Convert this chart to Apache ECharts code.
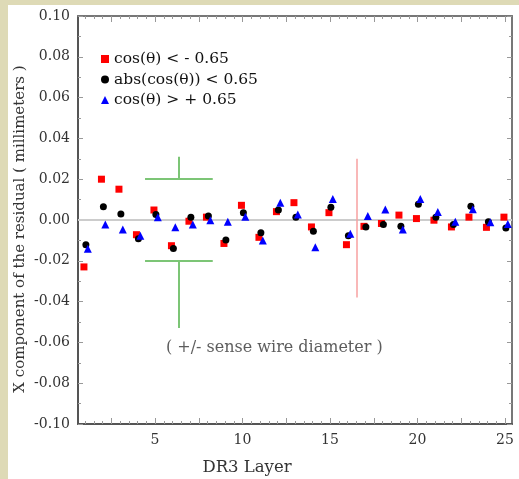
<!DOCTYPE html>
<html><head><meta charset="utf-8">
<script src="https://cdn.jsdelivr.net/npm/echarts@6/dist/echarts.min.js"></script>
<style>html,body{margin:0;padding:0;background:#fff}#c{width:519px;height:479px}</style>
</head><body><div id="c"></div>
<script>
const layers = [1,2,3,4,5,6,7,8,9,10,11,12,13,14,15,16,17,18,19,20,21,22,23,24,25];
const redVals = [-0.0230,0.0200,0.0151,-0.0072,0.0049,-0.0126,-0.0006,0.0014,-0.0115,0.0072,-0.0085,0.0041,0.0085,-0.0034,0.0036,-0.0121,-0.0031,-0.0017,0.0024,0.0007,-0.0001,-0.0034,0.0014,-0.0036,0.0014];
const blackVals = [-0.0121,0.0065,0.0029,-0.0092,0.0027,-0.0140,0.0014,0.0019,-0.0098,0.0036,-0.0062,0.0049,0.0014,-0.0055,0.0063,-0.0077,-0.0034,-0.0022,-0.0031,0.0077,0.0014,-0.0022,0.0068,-0.0009,-0.0039];
const blueVals = [-0.0141,-0.0022,-0.0047,-0.0077,0.0014,-0.0036,-0.0022,-0.0001,-0.0009,0.0016,-0.0101,0.0085,0.0027,-0.0133,0.0103,-0.0068,0.0019,0.0052,-0.0047,0.0103,0.0039,-0.0009,0.0053,-0.0011,-0.0019];
const seriesNames = ['cos(\u03B8) < - 0.65','abs(cos(\u03B8)) < 0.65','cos(\u03B8) > + 0.65'];
const xTickLabels = [5,10,15,20,25];
const xMajorTicks = [2.5,5,7.5,10,12.5,15,17.5,20,22.5,25];
const xMinorTicks = [];
for (let v = 1; v <= 25; v += 0.5) xMinorTicks.push(v);
// annotations (data units)
const bracketX = [4.43, 8.3, 6.37];
const bracketY = [0.02, -0.02, 0.031, -0.053];
const redLine = {x: 16.52, y1: 0.030, y2: -0.038};
const noteText = '( +/- sense wire diameter )';
const notePos = [11.82, -0.0625];

const jitter = [-0.06, 0.05, 0.16];
const mk = (vals, j) => layers.map((l, i) => [l + j, vals[i]]);
const font = 'DejaVu Serif';
const minX = 0.6, maxX = 25.4;

function xAx(pos, ticks, len, labels, line) {
  return {
    type: 'value', position: pos, min: minX, max: maxX,
    axisLine: {show: line, onZero: false, lineStyle: {color: pos === 'bottom' ? '#555' : '#777', width: 2}},
    axisTick: {show: true, inside: true, length: len, customValues: ticks, lineStyle: {color: '#999'}},
    axisLabel: labels ? {show: true, customValues: xTickLabels, margin: 9, color: '#333', fontFamily: font, fontSize: 14, formatter: v => String(v)} : {show: false},
    splitLine: {show: false}
  };
}
function yAx(pos, labels) {
  return {
    type: 'value', position: pos, min: -0.1, max: 0.1, interval: 0.02,
    axisLine: {show: true, onZero: false, lineStyle: {color: pos === 'left' ? '#555' : '#777', width: 2}},
    axisTick: {show: true, inside: true, length: 5, lineStyle: {color: '#999'}},
    minorTick: {show: true, splitNumber: 2, length: 3, lineStyle: {color: '#999'}},
    axisLabel: labels ? {show: true, margin: 8, color: '#333', fontFamily: font, fontSize: 14, formatter: v => (Math.abs(v) < 1e-9 ? 0 : v).toFixed(2)} : {show: false},
    splitLine: {show: false}
  };
}
const chart = echarts.init(document.getElementById('c'), null, {renderer: 'canvas'});
chart.setOption({
  animation: false,
  backgroundColor: '#fff',
  grid: {left: 78, right: 7, top: 16, bottom: 55},
  xAxis: [xAx('bottom', xMajorTicks, 6, true, true), xAx('bottom', xMinorTicks, 3, false, false),
          xAx('top', xMajorTicks, 6, false, true), xAx('top', xMinorTicks, 3, false, false)],
  yAxis: [yAx('left', true), yAx('right', false)],
  legend: {
    orient: 'vertical', left: 96, top: 46, itemWidth: 8, itemHeight: 8, itemGap: 4.5,
    textStyle: {fontFamily: font, fontSize: 15.5, color: '#111', lineHeight: 16},
    data: seriesNames
  },
  graphic: [
    {type: 'rect', shape: {x: 0, y: 0, width: 519, height: 5}, style: {fill: '#DEDAB6'}, z: 100},
    {type: 'rect', shape: {x: 0, y: 0, width: 8, height: 479}, style: {fill: '#DEDAB6'}, z: 100},
    {type: 'text', x: 20, y: 229, rotation: Math.PI / 2,
     style: {text: 'X component of the residual ( millimeters )', fontFamily: font, fontSize: 15, fill: '#333', textAlign: 'center', textVerticalAlign: 'middle'}},
    {type: 'text', x: 247, y: 468,
     style: {text: 'DR3 Layer', fontFamily: font, fontSize: 16.5, fill: '#333', textAlign: 'center', textVerticalAlign: 'middle'}}
  ],
  series: [
    {
      type: 'line', data: [], silent: true,
      markLine: {
        silent: true, symbol: 'none', animation: false, label: {show: false},
        data: [{yAxis: 0}],
        lineStyle: {color: '#ccc', width: 2, type: 'solid'}
      }
    },
    {
      type: 'line', data: [], silent: true,
      markLine: {
        silent: true, symbol: 'none', animation: false, label: {show: false},
        lineStyle: {color: '#7cc576', width: 2, type: 'solid'},
        data: [
          [{coord: [bracketX[0], bracketY[0]]}, {coord: [bracketX[1], bracketY[0]]}],
          [{coord: [bracketX[2], bracketY[0]]}, {coord: [bracketX[2], bracketY[2]]}],
          [{coord: [bracketX[0], bracketY[1]]}, {coord: [bracketX[1], bracketY[1]]}],
          [{coord: [bracketX[2], bracketY[1]]}, {coord: [bracketX[2], bracketY[3]]}]
        ]
      }
    },
    {
      type: 'line', data: [], silent: true,
      markLine: {
        silent: true, symbol: 'none', animation: false, label: {show: false},
        lineStyle: {color: '#f7a0a0', width: 1.5, type: 'solid'},
        data: [[{coord: [redLine.x, redLine.y1]}, {coord: [redLine.x, redLine.y2]}]]
      }
    },
    {
      type: 'scatter', data: [notePos], symbolSize: 0, silent: true,
      label: {show: true, position: 'inside', formatter: noteText, fontFamily: font, fontSize: 16, color: '#333'}
    },
    {name: seriesNames[0], type: 'scatter', data: mk(redVals, jitter[0]), symbol: 'rect', symbolSize: 7, itemStyle: {color: '#ff0000', opacity: 1}, z: 5},
    {name: seriesNames[1], type: 'scatter', data: mk(blackVals, jitter[1]), symbol: 'circle', symbolSize: 7, itemStyle: {color: '#000', opacity: 1}, z: 5},
    {name: seriesNames[2], type: 'scatter', data: mk(blueVals, jitter[2]), symbol: 'triangle', symbolSize: 8, itemStyle: {color: '#0000ff', opacity: 1}, z: 5}
  ]
});
</script></body></html>
